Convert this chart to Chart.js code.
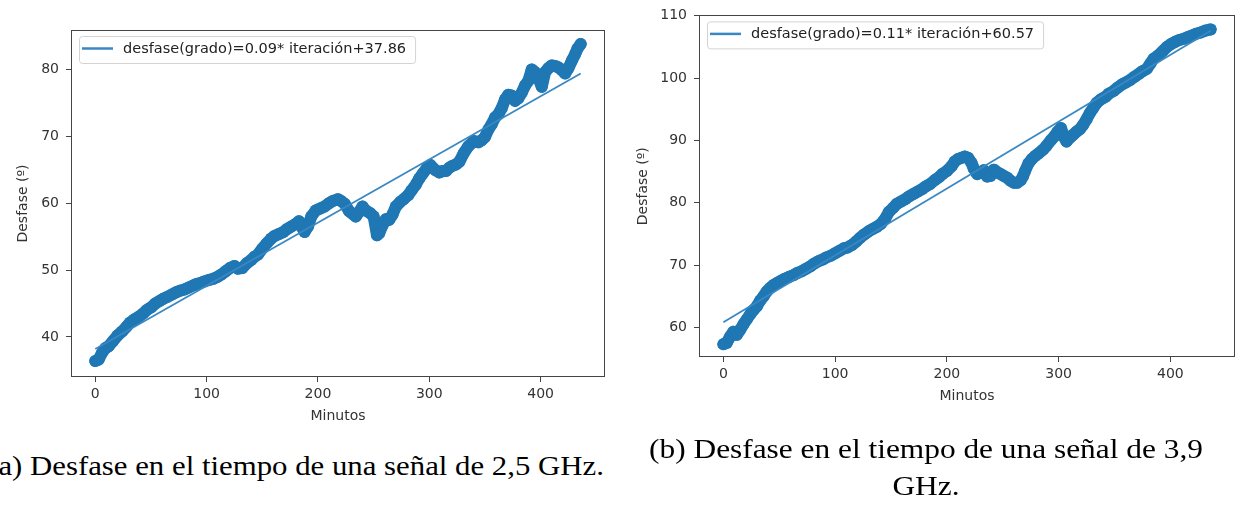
<!DOCTYPE html>
<html>
<head>
<meta charset="utf-8">
<script src="https://cdn.jsdelivr.net/npm/chart.js@4.4.0/dist/chart.umd.min.js"></script>
<style>
  body { margin: 0; width: 1241px; height: 508px; background: #fff; position: relative; overflow: hidden; }
  .holder { position: absolute; }
  .cap { position: absolute; font-family: "Liberation Serif", "DejaVu Serif", serif; font-size: 28px; color: #000;
         white-space: nowrap; text-align: center; transform: scaleX(1.1); transform-origin: 50% 50%; }
</style>
</head>
<body>
<div class="holder" style="left:0;top:0"><canvas id="chartA" width="620" height="440"></canvas></div>
<div class="holder" style="left:620px;top:0"><canvas id="chartB" width="621" height="420"></canvas></div>
<div class="cap" style="left:-204px;top:451px;width:1000px;line-height:30px">(a) Desfase en el tiempo de una señal de 2,5 GHz.</div>
<div class="cap" style="left:426px;top:430px;width:1000px;line-height:37px;transform:scaleX(1.12)">(b) Desfase en el tiempo de una señal de 3,9<br>GHz.</div>
<script>
// minutes / phase
var minutesA = [0, 3, 6, 9, 12, 16, 20, 24, 28, 31, 35, 39, 43, 46, 50, 54, 58, 61, 65, 69, 73, 76, 80, 84, 88, 91, 95, 98,
  102, 106, 110, 113, 117, 121, 125, 128, 132, 136, 140, 143, 146, 150, 154, 158, 161, 165, 169, 172, 176, 180, 183, 186,
  188, 191, 194, 198, 202, 206, 210, 213, 218, 221, 224, 228, 231, 234, 237, 240, 243, 247, 250, 253, 255, 258, 261, 264,
  267, 270, 274, 277, 281, 284, 288, 291, 294, 298, 301, 305, 309, 312, 315, 318, 321, 324, 327, 331, 335, 340, 344, 347,
  350, 353, 356, 359, 362, 365, 368, 371, 374, 377, 380, 383, 386, 389, 392, 395, 398, 401, 404, 407, 410, 413, 416, 419,
  422, 425, 428, 431, 433, 436];
var phaseA = [36.4, 36.6, 37.6, 38.3, 38.6, 39.4, 40.2, 40.8, 41.5, 42.1, 42.6, 43.0, 43.5, 44.0, 44.4, 45.0, 45.4, 45.7,
  46.0, 46.35, 46.7, 46.9, 47.1, 47.4, 47.7, 47.9, 48.1, 48.3, 48.5, 48.7, 49.0, 49.3, 49.8, 50.3, 50.6, 50.2, 50.3, 51.0,
  51.5, 52.0, 52.3, 53.2, 54.0, 54.7, 55.1, 55.4, 55.7, 56.1, 56.5, 56.9, 57.3, 56.3, 55.7, 56.5, 58.0, 58.9, 59.2, 59.5,
  60.0, 60.3, 60.6, 60.3, 59.9, 58.8, 58.4, 58.0, 58.7, 59.5, 58.9, 58.5, 58.0, 55.2, 55.5, 56.7, 57.6, 57.5, 58.3, 59.5,
  60.2, 60.6, 61.2, 61.9, 62.8, 63.7, 64.4, 65.3, 65.7, 65.0, 64.6, 64.8, 64.8, 65.3, 65.6, 65.8, 66.2, 67.5, 68.5, 69.3,
  69.1, 69.4, 69.9, 71.0, 71.8, 72.8, 73.3, 74.2, 75.5, 76.2, 76.1, 75.3, 75.7, 76.5, 77.6, 78.3, 80.0, 79.6, 78.7, 77.4,
  79.6, 80.2, 80.6, 80.5, 80.3, 79.9, 79.4, 80.2, 81.3, 82.3, 83.1, 83.8];
var fitXA = [0, 436];
var fitYA = [38.2, 79.4];
var fitLabelA = 'desfase(grado)=0.09* iteración+37.86';

// minutes / phase
var minutesB = [0, 3, 6, 9, 12, 15, 18, 21, 24, 27, 30, 33, 36, 39, 42, 45, 48, 52, 55, 59, 63, 66, 70, 74, 78, 81, 85,
  89, 92, 96, 100, 104, 108, 111, 115, 119, 122, 126, 130, 134, 137, 141, 145, 148, 152, 155, 159, 163, 166, 170, 174,
  178, 181, 185, 189, 193, 196, 200, 204, 207, 210, 213, 216, 219, 222, 224, 227, 230, 233, 236, 239, 242, 245, 248, 251,
  254, 257, 260, 263, 266, 268, 270, 273, 276, 279, 282, 286, 289, 293, 296, 299, 302, 305, 307, 310, 313, 316, 319, 322,
  325, 328, 331, 334, 338, 342, 345, 349, 353, 357, 360, 364, 368, 372, 375, 379, 382, 385, 389, 393, 397, 401, 404, 408,
  412, 416, 419, 423, 427, 431, 436];
var phaseB = [57.3, 57.5, 58.5, 59.3, 58.8, 59.6, 60.5, 61.3, 62.1, 62.8, 63.4, 64.3, 65.0, 65.8, 66.35, 66.8, 67.1, 67.5,
  67.8, 68.1, 68.4, 68.7, 69.0, 69.4, 69.8, 70.2, 70.6, 70.9, 71.2, 71.5, 71.9, 72.3, 72.7, 72.8, 73.2, 73.8, 74.3, 74.9,
  75.4, 75.8, 76.1, 76.6, 77.5, 78.5, 79.2, 79.8, 80.2, 80.6, 81.0, 81.4, 81.8, 82.2, 82.6, 83.0, 83.6, 84.1, 84.6, 85.1,
  85.8, 86.6, 87.0, 87.2, 87.4, 87.2, 86.4, 85.5, 84.6, 84.8, 85.2, 84.2, 84.3, 85.3, 84.9, 84.6, 84.3, 84.0, 83.5, 83.2,
  83.2, 83.6, 84.2, 85.1, 86.3, 87.0, 87.5, 87.9, 88.5, 89.1, 90.0, 90.6, 91.4, 92.0, 90.5, 89.8, 90.4, 90.9, 91.4, 91.8,
  92.5, 93.4, 94.4, 95.2, 96.0, 96.6, 97.0, 97.5, 97.9, 98.5, 99.0, 99.3, 99.7, 100.2, 100.7, 101.1, 101.5, 102.3, 103.1,
  103.6, 104.3, 105.0, 105.5, 105.8, 106.1, 106.3, 106.6, 106.8, 107.1, 107.3, 107.6, 107.8];
var fitXB = [0, 436];
var fitYB = [60.8, 107.6];
var fitLabelB = 'desfase(grado)=0.11* iteración+60.57';

var xTicks = [0, 100, 200, 300, 400];
var yTicksA = [40, 50, 60, 70, 80];
var yTicksB = [60, 70, 80, 90, 100, 110];

var pointColor = '#1f77b4';
var lineColor = '#3a88c3';
var fontFamily = '"DejaVu Sans", sans-serif';

function toXY(xs, ys) {
  return xs.map(function(x, i) { return {x: x, y: ys[i]}; });
}

// matplotlib style frame plus a legend box inside the plot
var boxPlugin = {
  id: 'boxPlugin',
  afterDatasetsDraw: function(chart) {
    var ctx = chart.ctx;
    var a = chart.chartArea;
    ctx.save();
    ctx.strokeStyle = '#444';
    ctx.lineWidth = 1;
    ctx.strokeRect(Math.round(a.left) + 0.5, Math.round(a.top) + 0.5,
      Math.round(a.right - a.left) - 1, Math.round(a.bottom - a.top) - 1);

    var label = chart.data.datasets[0].label;
    ctx.font = '14.5px ' + fontFamily;
    var tw = ctx.measureText(label).width;
    var bx = a.left + 8, by = a.top + 6, bw = tw + 53, bh = 27;
    ctx.beginPath();
    ctx.roundRect(bx + 0.5, by + 0.5, bw, bh, 3);
    ctx.fillStyle = 'rgba(255,255,255,0.8)';
    ctx.fill();
    ctx.strokeStyle = '#d3d3d3';
    ctx.stroke();
    ctx.beginPath();
    ctx.moveTo(bx + 3, by + 12.5);
    ctx.lineTo(bx + 34, by + 12.5);
    ctx.strokeStyle = lineColor;
    ctx.lineWidth = 2.5;
    ctx.stroke();
    ctx.fillStyle = '#222';
    ctx.textBaseline = 'middle';
    ctx.fillText(label, bx + 44, by + 13);
    ctx.restore();
  }
};

function makeChart(id, xs, ys, fitX, fitY, label, yMin, yMax, yTicks, yWidth, pad) {
  return new Chart(document.getElementById(id), {
    type: 'scatter',
    data: {
      datasets: [
        {
          label: label,
          data: toXY(fitX, fitY),
          showLine: true,
          borderColor: lineColor,
          borderWidth: 1.8,
          pointRadius: 0
        },
        {
          data: toXY(xs, ys),
          showLine: true,
          borderColor: pointColor,
          backgroundColor: pointColor,
          borderWidth: 12,
          borderJoinStyle: 'round',
          borderCapStyle: 'round',
          pointRadius: 6,
          pointBorderWidth: 0
        }
      ]
    },
    options: {
      responsive: false,
      animation: false,
      events: [],
      layout: { padding: pad },
      plugins: {
        legend: { display: false },
        tooltip: { enabled: false }
      },
      scales: {
        x: {
          type: 'linear',
          min: -21.8,
          max: 457.8,
          afterBuildTicks: function(s) { s.ticks = xTicks.map(function(v) { return {value: v}; }); },
          afterFit: function(s) { s.height = 63; },
          grid: { drawOnChartArea: false, tickLength: 5, color: '#444' },
          border: { display: false },
          ticks: { font: { family: fontFamily, size: 14 }, color: '#333', padding: 4, maxRotation: 0 },
          title: { display: true, text: 'Minutos', font: { family: fontFamily, size: 14 }, color: '#333',
                   padding: { top: 0, bottom: 15 } }
        },
        y: {
          min: yMin,
          max: yMax,
          afterBuildTicks: function(s) { s.ticks = yTicks.map(function(v) { return {value: v}; }); },
          afterFit: function(s) { s.width = yWidth; },
          grid: { drawOnChartArea: false, tickLength: 5, color: '#444' },
          border: { display: false },
          ticks: { font: { family: fontFamily, size: 14 }, color: '#333', padding: 7 },
          title: { display: true, text: 'Desfase (º)', font: { family: fontFamily, size: 14 }, color: '#333',
                   padding: { top: 15, bottom: 0 } }
        }
      }
    },
    plugins: [boxPlugin]
  });
}

makeChart('chartA', minutesA, phaseA, fitXA, fitYA, fitLabelA, 34.0, 85.9, yTicksA, 71,
  { top: 30, right: 15, left: 0, bottom: 0 });
makeChart('chartB', minutesB, phaseB, fitXB, fitYB, fitLabelB, 55.24, 110.05, yTicksB, 79,
  { top: 12, right: 6, left: 0, bottom: 0 });
</script>
</body>
</html>
